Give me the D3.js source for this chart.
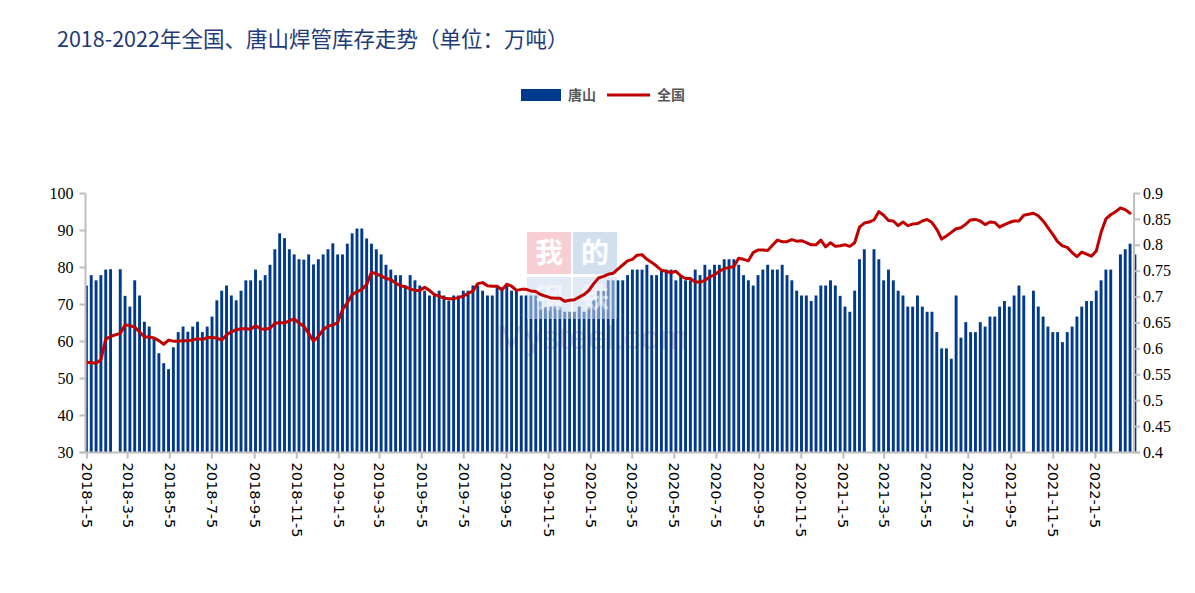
<!DOCTYPE html>
<html><head><meta charset="utf-8">
<script src="https://cdn.jsdelivr.net/npm/d3@7"></script>
<style>body{margin:0;background:#fff} svg{display:block}</style>
</head><body>
<svg id="c" width="1195" height="593"></svg>
<script>
// 唐山 weekly inventory (万吨), left axis; null = no data that week
const tangshan = [
75,77.8,76.4,77.8,79.3,79.4,null,79.4,72.2,69.3,76.4,72.3,65.2,63.9,61,56.7,54,52.4,58.3,62.4,
63.9,62.5,63.9,65.2,62.4,63.9,66.6,71,73.6,75,72.3,71,73.6,76.4,76.4,79.3,76.4,77.8,80.6,84.8,
89.1,87.8,84.8,83.4,82.1,82,83.4,80.7,82.1,83.4,84.8,86.4,83.4,83.4,86.3,89.1,90.4,90.4,87.7,86.3,
84.8,83.4,80.6,79.3,77.8,77.8,75,77.8,76.4,75,73.6,72.3,72.3,73.6,72.3,70.9,72.3,72.3,73.6,73.6,
75,75,73.6,72.3,72.3,75,74.5,75,73.6,73.6,72.3,72.3,72.3,72.3,70.7,69.3,69.3,69.3,69.3,67.9,
67.9,67.9,69.3,67.9,69.3,71,73.6,73.6,76.4,76.4,76.4,76.4,77.8,79.3,79.3,79.3,80.6,77.8,77.8,79.3,
79.3,79.3,76.4,77.8,76.4,76.4,79.3,77.8,80.6,79.3,80.6,80.6,82.1,82.1,82.1,80.6,77.8,76.4,75,77.8,
79.3,80.6,79.3,79.3,80.6,77.8,76.4,73.6,72.3,72.3,70.8,72.3,75,75,76.4,75,72.2,69.3,67.9,73.6,
82.1,84.8,null,84.8,82.1,76.4,79.3,76.4,73.6,72.3,69.3,69.3,72.3,69.3,67.9,67.9,62.4,58,58,55.2,
72.3,60.9,65.1,62.4,62.4,65.1,63.9,66.6,66.6,69.3,70.8,69.3,72.3,75,72.3,null,73.6,69.3,66.6,63.9,
62.4,62.4,59.7,62.4,63.9,66.6,69.3,70.8,70.8,73.6,76.4,79.3,79.3,null,83.4,84.8,86.3,83.4
];
// 全国 weekly inventory (万吨), right axis
const national = [
0.573,0.573,0.571,0.578,0.618,0.623,0.626,0.629,0.645,0.644,0.641,0.632,0.622,0.622,0.620,0.615,0.608,0.616,0.614,0.614,
0.615,0.615,0.616,0.619,0.617,0.621,0.621,0.620,0.616,0.626,0.632,0.636,0.638,0.638,0.637,0.644,0.638,0.637,0.639,0.648,
0.650,0.649,0.653,0.657,0.649,0.643,0.629,0.614,0.623,0.636,0.643,0.645,0.650,0.675,0.688,0.704,0.709,0.714,0.723,0.747,
0.744,0.740,0.735,0.733,0.726,0.721,0.719,0.715,0.712,0.712,0.718,0.712,0.704,0.701,0.697,0.696,0.696,0.698,0.701,0.706,
0.711,0.725,0.727,0.721,0.720,0.720,0.713,0.724,0.720,0.712,0.714,0.714,0.711,0.710,0.704,0.701,0.698,0.697,0.697,0.691,
0.693,0.694,0.699,0.704,0.712,0.725,0.736,0.739,0.743,0.745,0.753,0.761,0.769,0.772,0.780,0.781,0.772,0.766,0.759,0.751,
0.749,0.746,0.749,0.740,0.735,0.735,0.728,0.728,0.731,0.738,0.742,0.749,0.754,0.756,0.758,0.774,0.772,0.769,0.785,0.790,
0.790,0.789,0.799,0.809,0.806,0.806,0.810,0.807,0.808,0.804,0.800,0.800,0.809,0.796,0.804,0.797,0.798,0.800,0.797,0.804,
0.834,0.842,0.844,0.848,0.864,0.857,0.847,0.846,0.837,0.844,0.837,0.840,0.841,0.846,0.849,0.843,0.830,0.811,0.817,0.824,
0.831,0.833,0.840,0.848,0.849,0.846,0.839,0.844,0.843,0.834,0.839,0.843,0.846,0.846,0.857,0.859,0.861,0.856,0.846,0.833,
0.820,0.806,0.798,0.795,0.785,0.777,0.786,0.782,0.778,0.788,0.824,0.850,0.858,0.864,0.871,0.868,0.861
];
const firstWeek = "2018-1-5";
const xTickLabels = ["2018-1-5","2018-3-5","2018-5-5","2018-7-5","2018-9-5","2018-11-5",
"2019-1-5","2019-3-5","2019-5-5","2019-7-5","2019-9-5","2019-11-5",
"2020-1-5","2020-3-5","2020-5-5","2020-7-5","2020-9-5","2020-11-5",
"2021-1-5","2021-3-5","2021-5-5","2021-7-5","2021-9-5","2021-11-5","2022-1-5"];
const leftTicks = [30,40,50,60,70,80,90,100];
const rightTicks = [0.4,0.45,0.5,0.55,0.6,0.65,0.7,0.75,0.8,0.85,0.9];
const seriesNames = ["唐山","全国"];
const titleText = "2018-2022年全国、唐山焊管库存走势（单位：万吨）";

const toDate = s => { const [y,m,d] = s.split("-").map(Number); return new Date(y, m-1, d); };
const start = toDate(firstWeek);
const weeks = tangshan.map((_, i) => d3.timeDay.offset(start, 7*i));

const L = 85.5, R = 1134, T = 193, B = 452;
const svg = d3.select("#c");
const x = d3.scaleTime().domain([start, weeks[weeks.length-1]]).range([L + 0.9, R + 0.9]);
const yL = d3.scaleLinear().domain([30,100]).range([B, T]);
const yR = d3.scaleLinear().domain([0.4,0.9]).range([B, T]);
const axisCol = "#BFBFBF";
const barCol = "#003A8C";
const lineCol = "#C00000";

// title
svg.append("text").attr("x", 57).attr("y", 47)
  .attr("font-family", "'Noto Sans CJK SC', sans-serif").attr("font-size", 21.5)
  .attr("fill", "#1F3B78").text(titleText);

// legend
const lg = svg.append("g").attr("font-family", "'Noto Sans CJK SC', sans-serif")
  .attr("font-size", 14).attr("font-weight", "bold").attr("fill", "#595959");
lg.append("rect").attr("x", 521).attr("y", 89).attr("width", 40).attr("height", 12).attr("fill", barCol);
lg.append("text").attr("x", 568).attr("y", 100).text(seriesNames[0]);
lg.append("line").attr("x1", 607).attr("x2", 650).attr("y1", 95).attr("y2", 95)
  .attr("stroke", lineCol).attr("stroke-width", 3);
lg.append("text").attr("x", 657).attr("y", 100).text(seriesNames[1]);

// bars
const bw = 2.9;
svg.append("g").selectAll("rect")
  .data(weeks.map((d, i) => ({d, v: tangshan[i]})).filter(e => e.v != null))
  .join("rect")
  .attr("x", e => x(e.d) - bw/2).attr("width", bw)
  .attr("y", e => yL(e.v)).attr("height", e => B - yL(e.v))
  .attr("fill", barCol);

// watermark
const wm = svg.append("g");
const sq = [["我", 527, 232, "#F4C6CC"], ["的", 573, 232, "#C9D9EC"], ["钢", 527, 277, "#C9D9EC"], ["铁", 573, 277, "#C9D9EC"]];
sq.forEach(([c, sx, sy, col], i) => {
  wm.append("rect").attr("x", sx).attr("y", sy).attr("width", 44).attr("height", 42)
    .attr("fill", col).attr("opacity", i < 2 ? 0.85 : 0.55);
  wm.append("text").attr("x", sx + 22).attr("y", sy + 31).attr("text-anchor", "middle")
    .attr("font-family", "'Noto Sans CJK SC', serif").attr("font-size", 28).attr("font-weight", "bold")
    .attr("fill", "#fff").attr("opacity", i < 2 ? 1 : 0.5).text(c);
});
wm.append("text").attr("x", 497).attr("y", 349).attr("font-family", "'Liberation Sans', Arial, sans-serif")
  .attr("font-size", 34).attr("fill", "#3a3a4a").attr("opacity", 0.2).text("Mysteel.com");

// line
const line = d3.line().x((v, i) => x(weeks[i])).y(v => yR(v)).curve(d3.curveLinear);
svg.append("path").datum(national).attr("d", line).attr("fill", "none")
  .attr("stroke", lineCol).attr("stroke-width", 3).attr("stroke-linejoin", "round").attr("stroke-linecap", "round");

// axes
const axG = svg.append("g");
axG.append("line").attr("x1", L).attr("x2", L).attr("y1", T).attr("y2", B).attr("stroke", axisCol).attr("stroke-width", 2);
axG.append("line").attr("x1", R).attr("x2", R).attr("y1", T).attr("y2", B).attr("stroke", axisCol).attr("stroke-width", 2);
axG.append("line").attr("x1", L - 6).attr("x2", R + 6).attr("y1", B + 0.5).attr("y2", B + 0.5).attr("stroke", axisCol).attr("stroke-width", 2);

const leftAxis = d3.axisLeft(yL).tickValues(leftTicks).tickSize(6).tickPadding(6).tickFormat(d3.format("d"));
const gl = svg.append("g").attr("transform", `translate(${L},0)`).call(leftAxis);
const rightAxis = d3.axisRight(yR).tickValues(rightTicks).tickSize(6).tickPadding(3).tickFormat(d => String(+d.toFixed(2)));
const gr = svg.append("g").attr("transform", `translate(${R},0)`).call(rightAxis);
[gl, gr].forEach(g => {
  g.select(".domain").remove();
  g.selectAll(".tick line").attr("stroke", axisCol).attr("stroke-width", 2);
  g.selectAll(".tick text").attr("font-family", "'Liberation Serif', 'Times New Roman', serif")
    .attr("font-size", 16).attr("fill", "#000");
});

const tickDates = xTickLabels.map(toDate);
const bottomAxis = d3.axisBottom(x).tickValues(tickDates).tickSize(6)
  .tickFormat((d, i) => xTickLabels[i]);
const gb = svg.append("g").attr("transform", `translate(0,${B + 0.5})`).call(bottomAxis);
gb.select(".domain").remove();
gb.selectAll(".tick line").attr("stroke", axisCol).attr("stroke-width", 2);
gb.selectAll(".tick text")
  .attr("font-family", "'DejaVu Sans', Verdana, sans-serif").attr("font-size", 14.5).attr("fill", "#000")
  .attr("text-anchor", "start").attr("transform", "rotate(90)")
  .attr("x", 10).attr("y", 0).attr("dy", "0.35em");
</script>
</body></html>
